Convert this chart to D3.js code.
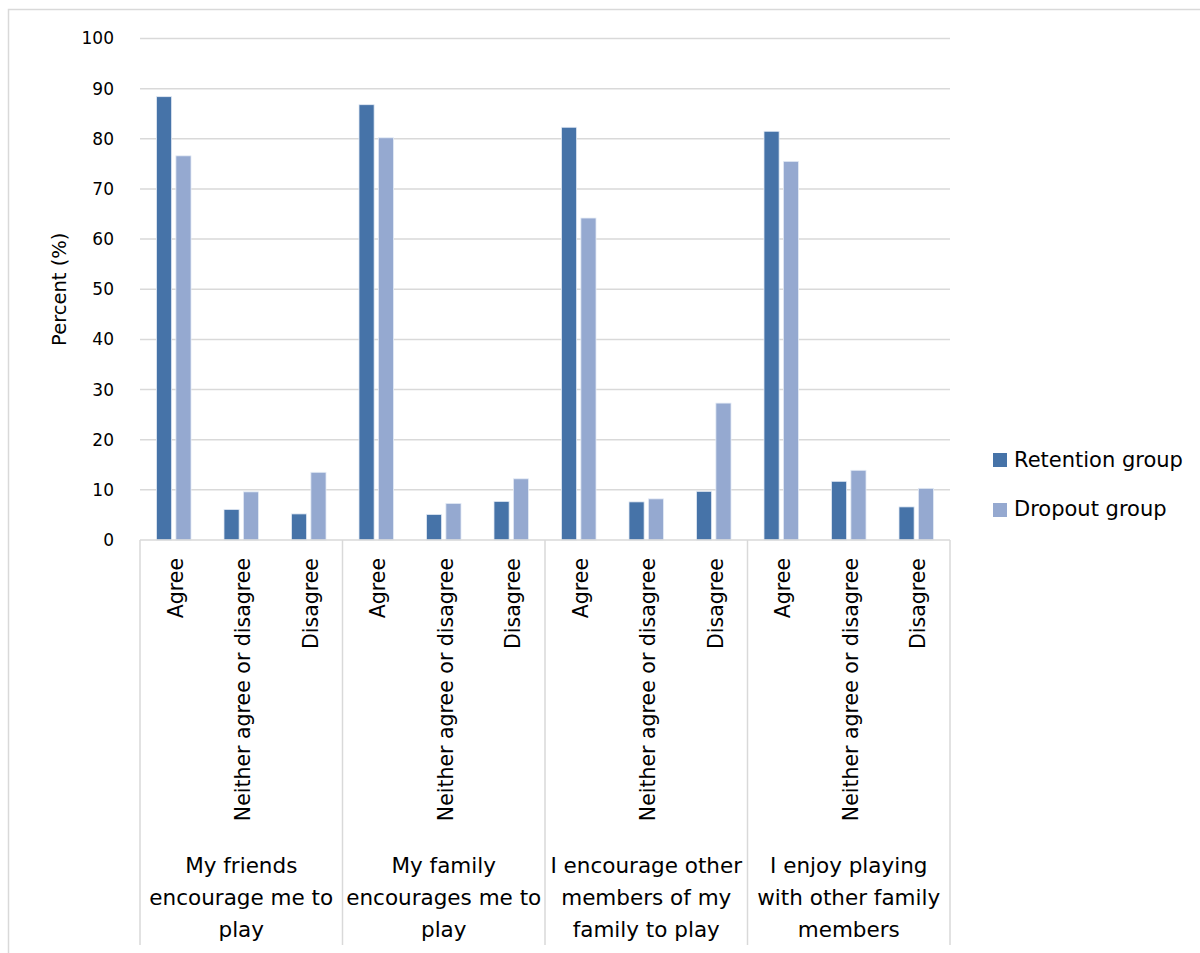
<!DOCTYPE html>
<html>
<head>
<meta charset="utf-8">
<script src="https://cdn.jsdelivr.net/npm/d3@7"></script>
<style>
  html, body { margin: 0; padding: 0; background: #fff; }
  svg { display: block; font-family: "DejaVu Sans", "Open Sans", sans-serif; }
</style>
</head>
<body>
<svg id="chart" width="1200" height="953"></svg>
<script>
// Survey statements (outer groups) and the answer options inside each
const groups = [
  ["My friends", "encourage me to", "play"],
  ["My family", "encourages me to", "play"],
  ["I encourage other", "members of my", "family to play"],
  ["I enjoy playing", "with other family", "members"]
];
const answers = ["Agree", "Neither agree or disagree", "Disagree"];

// Percent of each group giving each answer (4 statements x 3 answers)
const retention = [88.4, 6.1, 5.2,  86.8, 5.1, 7.7,  82.3, 7.6, 9.7,  81.5, 11.7, 6.6];
const dropout   = [76.6, 9.6, 13.5, 80.2, 7.3, 12.2, 64.2, 8.2, 27.3, 75.5, 13.9, 10.3];

const seriesNames = ["Retention group", "Dropout group"];
const seriesColors = ["#4673a8", "#95a9d0"];
const yTicks = [0, 10, 20, 30, 40, 50, 60, 70, 80, 90, 100];

const svg = d3.select("#chart");
const FONT = "\"DejaVu Sans\", sans-serif";

// outer frame
svg.append("rect")
  .attr("x", 8.5).attr("y", 9.5).attr("width", 1200).attr("height", 960)
  .attr("fill", "none").attr("stroke", "#d9d9d9").attr("stroke-width", 1.5);

const plotLeft = 140, plotRight = 950, plotTop = 38.5, plotBottom = 540;

const cats = [];
groups.forEach((g, gi) => answers.forEach((a, ai) => cats.push({ g: gi, a: ai, label: a })));

const x = d3.scaleBand().domain(d3.range(cats.length)).range([plotLeft, plotRight]).paddingInner(0).paddingOuter(0);
const y = d3.scaleLinear().domain([0, 100]).range([plotBottom, plotTop]);
const sub = d3.scaleBand().domain([0, 1]).range([0, x.bandwidth()]).paddingInner(0.22).paddingOuter(0.85);

// gridlines
svg.append("g").selectAll("line").data(yTicks.filter(t => t > 0)).join("line")
  .attr("x1", plotLeft).attr("x2", plotRight)
  .attr("y1", d => y(d)).attr("y2", d => y(d))
  .attr("stroke", "#d9d9d9").attr("stroke-width", 1.5);

// y tick labels
const yAxis = d3.axisLeft(y).tickValues(yTicks).tickSize(0).tickPadding(0);
const yg = svg.append("g").attr("transform", `translate(${plotLeft - 26},0)`).call(yAxis);
yg.select(".domain").remove();
yg.selectAll("text").attr("font-size", 17).attr("fill", "#000").attr("font-family", FONT);

// y title
svg.append("text")
  .attr("transform", `translate(66,${(plotTop + plotBottom) / 2}) rotate(-90)`)
  .attr("text-anchor", "middle").attr("font-size", 19.5).attr("fill", "#000")
  .text("Percent (%)");

// bars
const series = [retention, dropout];
series.forEach((vals, si) => {
  svg.append("g").selectAll("rect").data(vals).join("rect")
    .attr("x", (d, i) => x(i) + sub(si))
    .attr("width", sub.bandwidth())
    .attr("y", d => y(d))
    .attr("height", d => y(0) - y(d))
    .attr("fill", seriesColors[si])
    .attr("stroke", "#e4ebf5").attr("stroke-width", 0.8);
});

// category axis line and group separators
svg.append("line")
  .attr("x1", plotLeft).attr("x2", plotRight).attr("y1", plotBottom).attr("y2", plotBottom)
  .attr("stroke", "#d9d9d9").attr("stroke-width", 1.5);
const sepX = d3.range(groups.length + 1).map(i => plotLeft + i * 3 * x.bandwidth());
svg.append("g").selectAll("line").data(sepX).join("line")
  .attr("x1", d => d).attr("x2", d => d)
  .attr("y1", plotBottom).attr("y2", 945)
  .attr("stroke", "#d9d9d9").attr("stroke-width", 1.5);

// answer labels (rotated)
svg.append("g").selectAll("text").data(cats).join("text")
  .attr("transform", (d, i) => `translate(${x(i) + x.bandwidth() / 2 + 9},${plotBottom + 18}) rotate(-90)`)
  .attr("text-anchor", "end").attr("font-size", 20.5).attr("fill", "#000")
  .text(d => d.label);

// statement labels
groups.forEach((lines, gi) => {
  const cx = (sepX[gi] + sepX[gi + 1]) / 2;
  const t = svg.append("text").attr("text-anchor", "middle").attr("font-size", 21.5).attr("fill", "#000");
  lines.forEach((ln, li) => {
    t.append("tspan").attr("x", cx).attr("y", 873 + li * 32).text(ln);
  });
});

// legend
const lg = svg.append("g").attr("transform", "translate(993,453)");
seriesNames.forEach((name, i) => {
  lg.append("rect").attr("x", 0).attr("y", i * 50).attr("width", 14).attr("height", 14)
    .attr("fill", seriesColors[i]);
  lg.append("text").attr("x", 21).attr("y", i * 49 + 14)
    .attr("font-size", 21).attr("fill", "#000").text(name);
});
</script>
</body>
</html>
